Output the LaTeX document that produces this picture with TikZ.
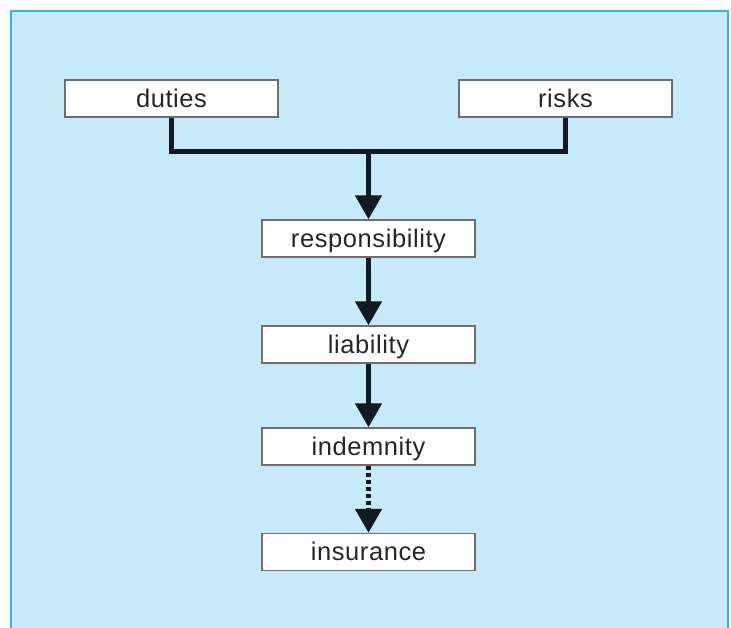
\documentclass[tikz,border=0pt]{standalone}
\usepackage{fontspec}
\setmainfont{Liberation Sans}[LetterSpace=2.3]
\usetikzlibrary{arrows.meta}
\definecolor{bgblue}{HTML}{C7EAFA}
\definecolor{frameblue}{HTML}{2DB5EC}
\definecolor{boxgray}{HTML}{6E6E6E}
\definecolor{inkdark}{HTML}{101A20}
\tikzset{
  termbox/.style={draw=boxgray, line width=1.5pt, fill=white, minimum width=213pt, minimum height=37pt, inner sep=0pt, text height=18.5pt, text depth=1.5pt, font=\fontsize{25.5}{28}\selectfont, text=black!85},
  bar/.style={draw=inkdark, line width=5pt},
  flow/.style={bar, -{Triangle[width=26pt,length=24pt]}},
  dotflow/.style={flow, dash pattern=on 4pt off 3pt}
}
\begin{document}
\begin{tikzpicture}[x=1pt,y=-1pt]
\useasboundingbox (0,0) rectangle (731,627);
\fill[bgblue] (11,11) rectangle (728,640);
\draw[frameblue, line width=2pt] (11,640) -- (11,11) -- (728,11) -- (728,640);
\node[termbox] (duties) at (171.5,98.5) {duties};
\node[termbox] (risks) at (565.5,98.5) {risks};
\node[termbox] (resp) at (368.5,238.5) {responsibility};
\node[termbox] (liab) at (368.5,344.5) {liability};
\node[termbox] (indem) at (368.5,446.5) {indemnity};
\node[termbox] (insur) at (368.5,552) {insurance};
\coordinate (join) at (368.5,151);
\draw[bar] (duties.south) |- (join) -| (risks.south);
\draw[flow] (join) -- (resp.north);
\draw[flow] (resp.south) -- (liab.north);
\draw[flow] (liab.south) -- (indem.north);
\draw[dotflow] (indem.south) -- (insur.north);
\end{tikzpicture}
\end{document}
